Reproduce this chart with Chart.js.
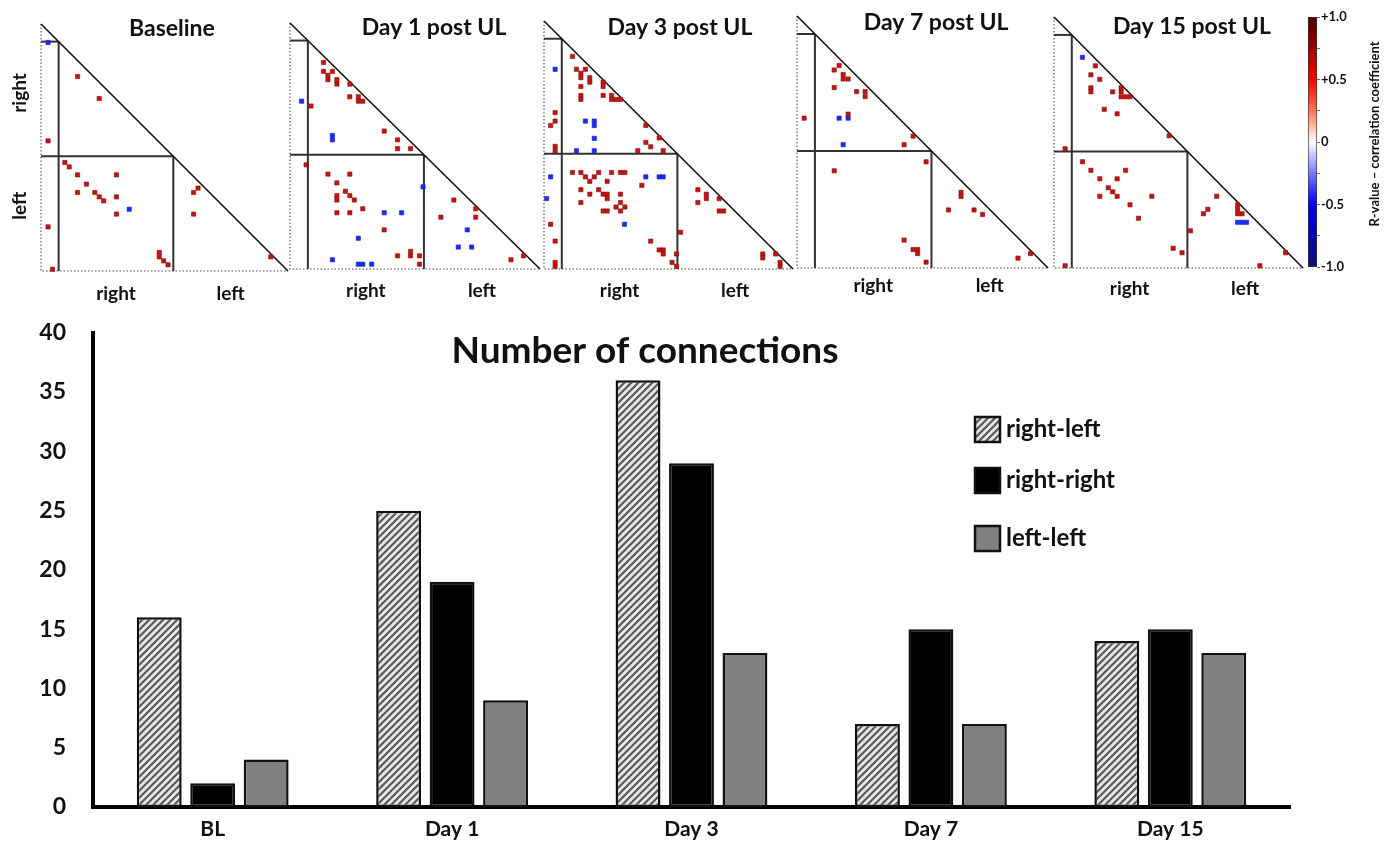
<!DOCTYPE html>
<html><head><meta charset="utf-8">
<script src="https://cdn.jsdelivr.net/npm/chart.js@4.4.1/dist/chart.umd.min.js"></script>
<style>
html,body{margin:0;padding:0;background:#fff;}
body{width:1384px;height:846px;position:relative;overflow:hidden;}
canvas{position:absolute;}
</style></head><body>
<script>
// ---------------- DATA ----------------
// Matrix panels: cell coordinates [column, row] (row 0 at top), N x N regions
const N = 56, LABEL = 4, SPLIT = 30;
const hemiTicks = [17, 43];
const hemiNames = ['right', 'left'];
const panelTitles = ['Baseline', 'Day 1 post UL', 'Day 3 post UL', 'Day 7 post UL', 'Day 15 post UL'];

const blPos = [[8.3,11.9],[13.2,16.9],[1.6,26.5],[5.4,31.4],[6.4,32.4],[8.3,34.2],[17.1,34.2],[10.3,36.3],[8.3,38.2],[12.2,38.2],[13.2,39.2],[14.2,40.1],[17.1,39.2],[17.1,43.1],[34.6,38.2],[35.6,37.2],[34.6,43.1],[1.6,46.0],[26.8,51.8],[26.8,52.8],[27.8,53.7],[28.8,54.6],[52.1,52.8],[2.6,55.6]];
const blNeg = [[1.6,4.2],[20.0,42.0]];

const d1Pos = [[7.5,9.0],[7.5,11.0],[8.5,11.9],[8.5,12.9],[9.5,11.0],[10.5,12.9],[10.5,13.9],[13.4,13.9],[13.4,16.8],[15.3,16.8],[15.3,17.8],[16.3,17.8],[4.7,18.9],[21.1,24.6],[24.1,26.6],[24.1,28.6],[27.0,28.6],[3.6,32.3],[8.5,34.4],[13.4,34.4],[10.5,36.4],[12.4,38.3],[13.4,39.3],[10.5,39.3],[10.5,40.3],[14.4,40.3],[16.3,42.3],[10.5,43.2],[13.4,43.2],[21.1,47.1],[24.1,53.0],[27.0,52.0],[27.0,53.0],[29.0,53.0],[29.0,54.9],[36.7,40.3],[41.6,42.3],[41.6,44.2],[33.8,44.2],[49.5,53.9],[52.3,53.0]];
const d1Neg = [[2.6,17.8],[9.5,25.6],[9.5,26.6],[29.8,37.3],[21.1,43.2],[25.0,43.2],[15.3,49.0],[9.5,53.9],[15.3,54.9],[16.3,54.9],[18.3,54.9],[39.7,47.1],[37.7,51.0],[40.7,51.0]];

const d3Pos = [[6.4,8.0],[7.3,10.9],[9.3,10.9],[8.3,11.8],[8.3,12.8],[10.3,12.8],[10.3,13.8],[8.3,14.8],[8.3,16.8],[8.3,17.7],[13.3,13.8],[13.3,14.8],[13.3,16.8],[15.2,16.8],[15.2,17.7],[16.2,17.7],[17.2,17.7],[2.5,20.7],[2.5,22.6],[1.5,23.6],[2.5,28.3],[2.5,29.3],[22.9,23.6],[22.9,27.4],[24.0,28.4],[25.9,26.4],[26.8,29.3],[21.1,29.3],
  [6.4,34.2],[8.3,34.2],[9.3,35.2],[10.3,36.2],[11.3,35.2],[12.3,34.2],[15.2,34.2],[17.2,34.2],[18.2,34.2],[8.3,38.1],[10.3,39.1],[12.3,38.1],[13.3,39.1],[14.2,39.1],[14.2,40.1],[14.2,36.2],[8.3,41.0],[14.2,42.9],[13.3,42.9],[16.2,42.0],[17.2,41.0],[17.2,39.1],[18.2,42.0],[17.2,42.9],[22.0,37.1],[1.5,45.9],[2.5,49.7],[2.5,54.5],[2.5,55.4],[24.0,49.7],[25.9,51.7],[26.8,51.7],[26.8,52.6],[29.8,52.6],[28.8,54.5],[29.8,55.4],[30.7,47.7],
  [34.6,38.1],[34.6,41.0],[36.5,39.1],[36.5,40.1],[39.4,40.1],[39.4,42.9],[40.4,42.9],[49.2,52.6],[49.2,53.5],[52.1,52.6],[53.1,54.5],[53.1,55.4]];
const d3Neg = [[2.5,10.9],[9.3,22.6],[11.3,22.6],[11.3,23.6],[11.3,26.5],[7.3,29.3],[11.3,29.3],[1.5,35.2],[0.6,40.1],[22.9,35.2],[25.9,35.2],[26.8,35.2],[18.1,45.9]];

const d7Pos = [[8.3,12.0],[9.4,11.0],[10.3,13.0],[10.3,14.0],[11.4,14.0],[8.3,15.9],[13.3,16.8],[15.2,16.8],[15.2,17.9],[11.4,21.8],[1.6,22.7],[25.9,26.7],[23.9,28.6],[28.8,32.4],[8.3,34.4],[36.6,39.2],[36.6,40.1],[33.8,43.1],[39.5,43.1],[41.4,44.1],[23.9,49.8],[25.9,51.9],[26.9,51.9],[26.9,52.8],[28.8,54.7],[49.3,53.8],[52.1,52.8]];
const d7Neg = [[9.4,22.7],[11.4,22.7],[10.3,28.6]];

const d15Pos = [[9.3,10.9],[8.3,12.9],[10.3,13.9],[8.3,15.8],[8.3,16.7],[13.2,16.7],[15.1,15.8],[15.1,16.7],[15.1,17.8],[16.1,17.8],[17.1,17.8],[11.3,20.6],[14.2,21.6],[25.9,26.5],[2.5,29.4],[6.4,32.3],[8.3,34.2],[10.3,36.1],[14.2,36.1],[16.1,34.2],[12.2,38.1],[13.2,39.0],[10.3,40.0],[14.2,40.0],[22.0,40.0],[17.1,41.9],[19.0,44.9],[30.7,47.7],[26.8,51.6],[28.8,52.6],[2.5,55.5],
  [33.6,43.9],[34.6,42.9],[36.6,40.0],[41.3,41.9],[41.3,42.9],[41.3,43.9],[42.3,43.9],[52.1,52.6],[46.3,55.5]];
const d15Neg = [[6.4,9.0],[41.3,45.8],[42.3,45.8],[43.3,45.8]];

const panelPos = [blPos, d1Pos, d3Pos, d7Pos, d15Pos];
const panelNeg = [blNeg, d1Neg, d3Neg, d7Neg, d15Neg];

// Colour bar
const cbMajor = [-1, -0.5, 0, 0.5, 1];
const cbMajorLabels = ['-1.0', '-0.5', '0', '+0.5', '+1.0'];
const cbTitle = 'R-value \u2013 correlation coefficient';

// Bar chart
const categories = ['BL', 'Day 1', 'Day 3', 'Day 7', 'Day 15'];
const seriesNames = ['right-left', 'right-right', 'left-left'];
const rightLeft = [16, 25, 36, 7, 14];
const rightRight = [2, 19, 29, 15, 15];
const leftLeft = [4, 9, 13, 7, 13];
const barTitle = 'Number of connections';
const yTicks = [0, 5, 10, 15, 20, 25, 30, 35, 40];

// ---------------- STYLE / LAYOUT ----------------
const FONT = 'Lato, "Open Sans", sans-serif';
const RED = '#c31512', BLUE = '#1a2cf5';
const panelBoxes = [[41,24,247,247],[290,23,250,246],[544,21,249,248],[797,16,251,252],[1054,17,249,251]];
const panelTitleFx = [0.53, 0.576, 0.546, 0.554, 0.554];
const panelTitleDy = [5, 5, 7, 7, 10];
const panelXPad = [3, 2, 2, -2, 1];
const PH = 305;

const panelTitlePlugin = {
  id: 'panelTitle',
  afterDraw(chart, args, o) {
    if (!o || !o.text) return;
    const {ctx, chartArea: a} = chart;
    ctx.save();
    ctx.font = 'bold 23px ' + FONT;
    ctx.fillStyle = '#111';
    ctx.textAlign = 'center';
    ctx.textBaseline = 'middle';
    ctx.fillText(o.text, a.left + o.fx * (a.right - a.left), a.top + o.dy);
    ctx.restore();
  }
};
const sideLabelPlugin = {
  id: 'sideLabels',
  afterDraw(chart, args, o) {
    if (!o || !o.show) return;
    const {ctx, chartArea: a} = chart;
    const ys = chart.scales.y;
    ctx.save();
    ctx.font = 'bold 19px ' + FONT;
    ctx.fillStyle = '#111';
    ctx.textAlign = 'center';
    ctx.textBaseline = 'middle';
    hemiTicks.forEach((v, i) => {
      ctx.save();
      ctx.translate(a.left - o.dx, ys.getPixelForValue(v) + o.shift[i]);
      ctx.rotate(-Math.PI / 2);
      ctx.fillText(hemiNames[i], 0, 0);
      ctx.restore();
    });
    ctx.restore();
  }
};

function lineDs(pts, color, width, dash) {
  return {type: 'scatter', data: pts.map(([x, y]) => ({x, y})), showLine: true, pointRadius: 0,
    borderColor: color, borderWidth: width, borderDash: dash || [], clip: false, order: 5, fill: false};
}

panelTitles.forEach((title, i) => {
  const [bl, bt, bw, bh] = panelBoxes[i];
  const L = i === 0 ? bl : 8, R = 6;
  const cv = document.createElement('canvas');
  cv.width = bw + L + R; cv.height = PH;
  cv.style.left = (bl - L) + 'px'; cv.style.top = '0px';
  document.body.appendChild(cv);
  new Chart(cv, {
    type: 'scatter',
    data: {datasets: [
      {label: 'r > 0', data: panelPos[i].map(([x, y]) => ({x, y})), pointStyle: 'rect', pointRadius: 3,
        backgroundColor: RED, borderColor: '#8a0b0b', borderWidth: 0.6, clip: false, order: 0},
      {label: 'r < 0', data: panelNeg[i].map(([x, y]) => ({x, y})), pointStyle: 'rect', pointRadius: 3,
        backgroundColor: BLUE, borderColor: '#1020c0', borderWidth: 0.6, clip: false, order: 0},
      lineDs([[0, 0], [N, N]], '#111', 1.6),
      lineDs([[0, LABEL], [LABEL, LABEL]], '#333', 2),
      lineDs([[LABEL, LABEL], [LABEL, N]], '#333', 2),
      lineDs([[0, SPLIT], [SPLIT, SPLIT]], '#333', 2),
      lineDs([[SPLIT, SPLIT], [SPLIT, N]], '#333', 2),
      lineDs([[0, 0], [0, N], [N, N]], '#858585', 1.6, [1.5, 2])
    ]},
    options: {
      responsive: false, animation: false, events: [],
      layout: {padding: {left: L, right: R, top: bt, bottom: 0}},
      plugins: {legend: {display: false}, tooltip: {enabled: false},
        panelTitle: {text: title, fx: panelTitleFx[i], dy: panelTitleDy[i]},
        sideLabels: {show: i === 0, dx: 21, shift: [-6, -8]}},
      scales: {
        x: {type: 'linear', min: 0, max: N, grid: {display: false}, border: {display: false},
          afterBuildTicks: s => { s.ticks = hemiTicks.map(v => ({value: v})); },
          afterFit: s => { s.height = PH - bt - bh; },
          ticks: {autoSkip: false, maxRotation: 0, padding: panelXPad[i], color: '#111',
            font: {family: FONT, size: 19, weight: 'bold'},
            callback: v => hemiNames[hemiTicks.indexOf(v)]}},
        y: {type: 'linear', min: 0, max: N, reverse: true, display: false}
      }
    },
    plugins: [panelTitlePlugin, sideLabelPlugin]
  });
});

// ---------------- COLOUR BAR ----------------
(function () {
  const cv = document.createElement('canvas');
  cv.width = 94; cv.height = 300;
  cv.style.left = '1290px'; cv.style.top = '0px';
  document.body.appendChild(cv);
  const cbTitlePlugin = {
    id: 'cbTitle',
    afterDraw(chart) {
      const {ctx, chartArea: a} = chart;
      ctx.save();
      ctx.font = 'bold 13px ' + FONT;
      ctx.fillStyle = '#111';
      ctx.textAlign = 'center';
      ctx.textBaseline = 'middle';
      ctx.translate(85, (a.top + a.bottom) / 2 - 8);
      ctx.rotate(-Math.PI / 2);
      ctx.fillText(cbTitle, 0, 0);
      ctx.restore();
    }
  };
  new Chart(cv, {
    type: 'bar',
    data: {labels: [''], datasets: [{data: [[-1, 1]], borderColor: '#333', borderWidth: 1, borderSkipped: false,
      barPercentage: 1, categoryPercentage: 1,
      backgroundColor: c => {
        const a = c.chart.chartArea; if (!a) return '#fff';
        const g = c.chart.ctx.createLinearGradient(0, a.top, 0, a.bottom);
        g.addColorStop(0, '#4a0000'); g.addColorStop(0.12, '#990000'); g.addColorStop(0.25, '#ff0000');
        g.addColorStop(0.38, '#ff7a5a'); g.addColorStop(0.5, '#ffffff'); g.addColorStop(0.62, '#7d7dff');
        g.addColorStop(0.75, '#0000f5'); g.addColorStop(1, '#101070');
        return g;
      }}]},
    options: {
      responsive: false, animation: false, events: [],
      layout: {padding: {left: 18, top: 17, right: 0, bottom: 33}},
      plugins: {legend: {display: false}, tooltip: {enabled: false}},
      scales: {
        x: {display: false},
        y: {position: 'right', min: -1, max: 1,
          afterBuildTicks: s => { s.ticks = [-1, -0.75, -0.5, -0.25, 0, 0.25, 0.5, 0.75, 1].map(v => ({value: v})); },
          afterFit: s => { s.width = 67; },
          grid: {drawOnChartArea: false, drawTicks: true, tickLength: 3, color: '#666'},
          border: {display: false},
          ticks: {padding: 1, color: '#111', font: {family: FONT, size: 13, weight: 'bold'},
            callback: v => { const k = cbMajor.indexOf(v); return k >= 0 ? cbMajorLabels[k] : ''; }}}
      }
    },
    plugins: [cbTitlePlugin]
  });
})();

// ---------------- BAR CHART ----------------
(function () {
  const cv = document.createElement('canvas');
  cv.width = 1384; cv.height = 546;
  cv.style.left = '0px'; cv.style.top = '300px';
  document.body.appendChild(cv);

  const tile = document.createElement('canvas');
  const s = 7; tile.width = s; tile.height = s;
  const t = tile.getContext('2d');
  t.fillStyle = '#e6e6e6'; t.fillRect(0, 0, s, s);
  t.strokeStyle = '#5a5a5a'; t.lineWidth = 2.2;
  t.beginPath();
  t.moveTo(0, s); t.lineTo(s, 0);
  t.moveTo(-2, 2); t.lineTo(2, -2);
  t.moveTo(s - 2, s + 2); t.lineTo(s + 2, s - 2);
  t.stroke();
  const hatch = t.createPattern(tile, 'repeat');

  const titlePlugin = {
    id: 'bigTitle',
    afterDraw(chart, args, o) {
      const {ctx} = chart;
      ctx.save();
      ctx.font = 'bold 37px ' + FONT;
      ctx.fillStyle = '#111';
      ctx.textAlign = 'center';
      ctx.textBaseline = 'middle';
      ctx.fillText(o.text, o.x, o.y);
      ctx.restore();
    }
  };
  const legendPlugin = {
    id: 'boxLegend',
    afterDraw(chart, args, o) {
      const {ctx} = chart;
      ctx.save();
      ctx.font = 'bold 24px ' + FONT;
      ctx.textBaseline = 'middle';
      chart.data.datasets.forEach((ds, i) => {
        const y = o.top + o.offsets[i];
        ctx.fillStyle = ds.backgroundColor;
        ctx.fillRect(o.left, y, o.box, o.box);
        ctx.lineWidth = 2.5; ctx.strokeStyle = '#111';
        ctx.strokeRect(o.left, y, o.box, o.box);
        ctx.fillStyle = '#111';
        ctx.fillText(ds.label, o.left + o.box + 6, y + o.box / 2);
      });
      ctx.restore();
    }
  };

  const common = {borderColor: '#111', borderWidth: 2.5, borderSkipped: false,
    categoryPercentage: 0.67, barPercentage: 0.84};
  new Chart(cv, {
    type: 'bar',
    data: {labels: categories, datasets: [
      Object.assign({label: seriesNames[0], data: rightLeft, backgroundColor: hatch}, common),
      Object.assign({label: seriesNames[1], data: rightRight, backgroundColor: '#000'}, common),
      Object.assign({label: seriesNames[2], data: leftLeft, backgroundColor: '#808080'}, common)
    ]},
    options: {
      responsive: false, animation: false, events: [],
      layout: {padding: {left: 0, right: 94, top: 30, bottom: 0}},
      plugins: {legend: {display: false}, tooltip: {enabled: false},
        bigTitle: {text: barTitle, x: 645, y: 51},
        boxLegend: {left: 975, top: 117, box: 25, offsets: [0, 51, 109]}},
      scales: {
        x: {grid: {display: false}, border: {display: true, color: '#000', width: 4},
          afterFit: s => { s.height = 39; },
          ticks: {padding: 2, color: '#111', font: {family: FONT, size: 21, weight: 'bold'}}},
        y: {min: 0, max: 40,
          afterBuildTicks: s => { s.ticks = yTicks.map(v => ({value: v})); },
          afterFit: s => { s.width = 93; },
          grid: {display: false}, border: {display: true, color: '#000', width: 4},
          ticks: {padding: 19, color: '#111', font: {family: FONT, size: 23, weight: 'bold'}}}
      }
    },
    plugins: [titlePlugin, legendPlugin]
  });
})();
</script>
</body></html>
